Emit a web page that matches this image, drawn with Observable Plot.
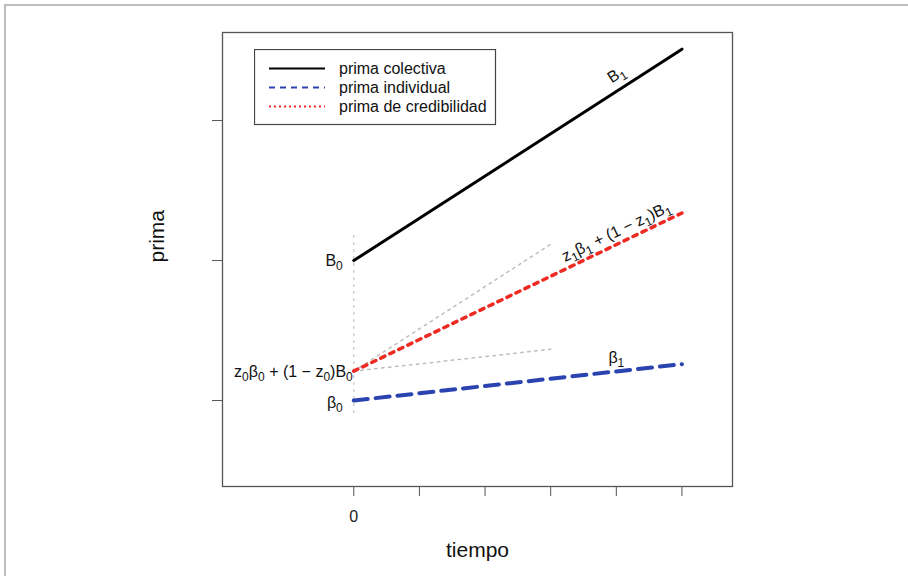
<!DOCTYPE html>
<html><head><meta charset="utf-8">
<script src="https://cdn.jsdelivr.net/npm/d3@7"></script>
<script src="https://cdn.jsdelivr.net/npm/@observablehq/plot@0.6"></script>
<style>
body{margin:0;background:#fff;font-family:"Liberation Sans",Arial,sans-serif;}
#wrap{position:relative;width:908px;height:576px;overflow:hidden;background:#fff;}
#chart{position:absolute;left:0;top:0;}
#border{position:absolute;left:4px;top:4px;width:920px;height:590px;border-top:2px solid #bdbdbd;border-left:2px solid #bdbdbd;pointer-events:none;}
#legend{position:absolute;left:254px;top:49px;}
</style></head><body>
<div id="wrap"><div id="chart"></div><div id="legend"></div><div id="border"></div></div>
<script>
// ---- data ----
const times = [0, 5];
const colectiva = [2.0, 3.51];      // B0 -> B1
const individual = [1.0, 1.26];     // β0 -> β1
const credibilidad = [1.21, 2.34];  // z0β0+(1-z0)B0 -> z1β1+(1-z1)B1
const guideEnd = 3;                 // end time of the grey reference lines
const guideSpan = [0.91, 2.21];     // vertical grey dotted line at t = 0
const xTicks = [0, 1, 2, 3, 4, 5];
const xTickLabels = ["0", "", "", "", "", ""];
const yTicks = [1, 2, 3];
const seriesNames = ["prima colectiva", "prima individual", "prima de credibilidad"];
const seriesColors = ["#000000", "#2a43b0", "#ee2a22"];
const startLabels = ["B₀", "z₀β₀ + (1 − z₀)B₀", "β₀"];
const endLabels = ["B₁", "z₁β₁ + (1 − z₁)B₁", "β₁"];
const labelTime = 4;

// ---- derived tables ----
const seriesVals = [colectiva, credibilidad, individual];
const rows = (vals) => times.map((t, i) => ({t, v: vals[i]}));
const slope = (vals) => (vals[1] - vals[0]) / (times[1] - times[0]);
const at = (vals, t) => vals[0] + slope(vals) * (t - times[0]);
const guides = [
  [{t: 0, v: credibilidad[0]}, {t: guideEnd, v: credibilidad[0] + slope(colectiva) * guideEnd}],
  [{t: 0, v: credibilidad[0]}, {t: guideEnd, v: credibilidad[0] + slope(individual) * guideEnd}]
];
const startTbl = startLabels.map((s, i) => ({s, t: 0, v: seriesVals[i][0]}));
const endTbl = endLabels.map((s, i) => ({s, t: labelTime, v: at(seriesVals[i], labelTime)}));

const font = "Liberation Sans, Arial, Helvetica, sans-serif";
const chart = Plot.plot({
  width: 908, height: 576,
  marginLeft: 222, marginRight: 176, marginTop: 32, marginBottom: 90,
  x: {domain: [-2, 5.77]},
  y: {domain: [0.386, 3.629]},
  style: {background: "transparent", fontFamily: font, color: "#111"},
  marks: [
    Plot.frame({stroke: "#555", strokeWidth: 1.3}),
    Plot.axisX({ticks: xTicks, tickFormat: (d) => xTickLabels[xTicks.indexOf(d)], tickSize: 10, tickPadding: 14, fontSize: 16, stroke: "#555", fill: "#222", label: null}),
    Plot.axisY({ticks: yTicks, tickFormat: () => "", tickSize: 10, stroke: "#555", label: null}),
    Plot.ruleX([0], {y1: guideSpan[0], y2: guideSpan[1], stroke: "#c4c4c4", strokeWidth: 1.4, strokeDasharray: "2.5,4.5"}),
    ...guides.map(g => Plot.line(g, {x: "t", y: "v", stroke: "#bdbdbd", strokeWidth: 1.5, strokeDasharray: "2.5,4.5"})),
    Plot.line(rows(colectiva), {x: "t", y: "v", stroke: seriesColors[0], strokeWidth: 3}),
    Plot.line(rows(individual), {x: "t", y: "v", stroke: seriesColors[1], strokeWidth: 4, strokeDasharray: "14,8"}),
    Plot.line(rows(credibilidad), {x: "t", y: "v", stroke: seriesColors[2], strokeWidth: 3.5, strokeDasharray: "4.5,5.5"}),
    Plot.text([startTbl[0]], {x: "t", y: "v", text: "s", textAnchor: "end", dx: -11, dy: 0, fontSize: 16, fill: "#111", className: "sub"}),
    Plot.text([startTbl[1]], {x: "t", y: "v", text: "s", textAnchor: "end", dx: -1, dy: 1, fontSize: 16, fill: "#111", className: "sub"}),
    Plot.text([startTbl[2]], {x: "t", y: "v", text: "s", textAnchor: "end", dx: -11, dy: 2, fontSize: 16, fill: "#111", className: "sub"}),
    Plot.text([endTbl[0]], {x: "t", y: "v", text: "s", rotate: -33, dy: -17, fontSize: 16, fill: "#111", className: "sub"}),
    Plot.text([endTbl[1]], {x: "t", y: "v", text: "s", rotate: -25.7, dy: -13, fontSize: 16, fill: "#111", className: "sub"}),
    Plot.text([endTbl[2]], {x: "t", y: "v", text: "s", dy: -14, fontSize: 16, fill: "#111", className: "sub"}),
    Plot.text(["tiempo"], {frameAnchor: "bottom", dy: 70, fontSize: 21, fill: "#111"}),
    Plot.text(["prima"], {frameAnchor: "left", rotate: -90, dx: -65, dy: 3, fontSize: 21, fill: "#111"})
  ]
});
document.getElementById("chart").append(chart);

// render Unicode subscripts as real subscript tspans (plotmath style)
const subMap = {"₀": "0", "₁": "1"};
d3.select(chart).selectAll("g.sub text").each(function () {
  const el = d3.select(this);
  const str = el.text();
  el.text(null);
  let buf = "";
  let shifted = false;
  const flush = () => {
    if (buf) {
      const t = el.append("tspan").text(buf);
      if (shifted) { t.attr("dy", -4); shifted = false; }
      buf = "";
    }
  };
  for (const ch of str) {
    if (subMap[ch]) {
      flush();
      el.append("tspan").attr("dy", shifted ? 0 : 4).attr("font-size", 12).text(subMap[ch]);
      shifted = true;
    } else buf += ch;
  }
  flush();
});

// ---- legend ----
const dashes = [null, "6,5", "2,3"];
const lg = d3.select("#legend").append("svg").attr("width", 243).attr("height", 77);
lg.append("rect").attr("x", 0.5).attr("y", 0.5).attr("width", 241).attr("height", 75)
  .attr("fill", "#fff").attr("stroke", "#444").attr("stroke-width", 1.2);
seriesNames.forEach((name, i) => {
  const y = 19.5 + i * 19;
  lg.append("line").attr("x1", 15).attr("x2", 71).attr("y1", y).attr("y2", y)
    .attr("stroke", seriesColors[i]).attr("stroke-width", 2)
    .attr("stroke-dasharray", dashes[i]);
  lg.append("text").attr("x", 85).attr("y", y).attr("dy", "0.35em")
    .attr("font-size", 16).attr("font-family", font).attr("fill", "#111").text(name);
});
</script>
</body></html>
